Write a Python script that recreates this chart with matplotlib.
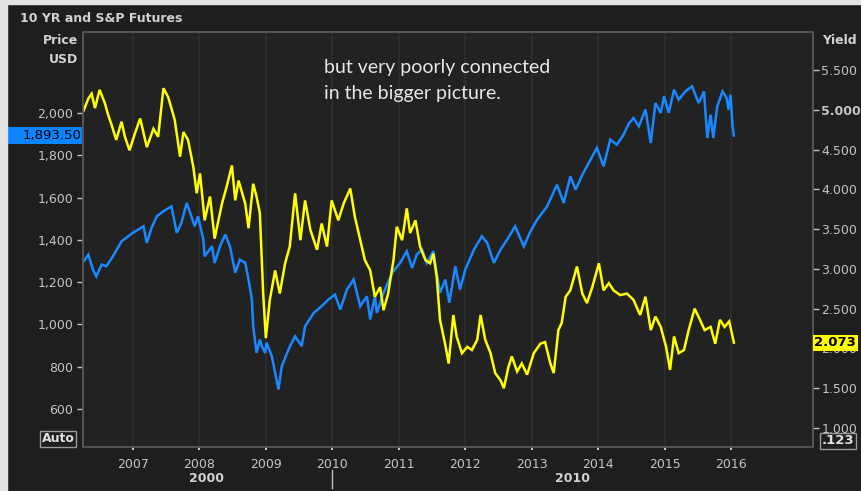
import numpy as np
import matplotlib.pyplot as plt
import matplotlib.transforms as mtransforms
from matplotlib.patches import Rectangle
from matplotlib.ticker import FuncFormatter

# S&P futures (left axis, USD) - decimal year / price
sp_years = [2006.26, 2006.33, 2006.40, 2006.45, 2006.53, 2006.60, 2006.70, 2006.83,
            2007.00, 2007.16, 2007.21, 2007.28, 2007.36, 2007.46, 2007.58, 2007.66,
            2007.73, 2007.81, 2007.88, 2007.93, 2007.98, 2008.06, 2008.08, 2008.19,
            2008.23, 2008.31, 2008.39, 2008.46, 2008.54, 2008.61, 2008.69, 2008.74,
            2008.79, 2008.81, 2008.86, 2008.91, 2008.94, 2008.99, 2009.01, 2009.09,
            2009.19, 2009.24, 2009.34, 2009.44, 2009.54, 2009.59, 2009.72, 2009.84,
            2009.94, 2010.04, 2010.12, 2010.22, 2010.32, 2010.42, 2010.52, 2010.57,
            2010.64, 2010.67, 2010.77, 2010.90, 2011.02, 2011.12, 2011.20, 2011.27,
            2011.35, 2011.42, 2011.52, 2011.57, 2011.62, 2011.70, 2011.76, 2011.85,
            2011.92, 2012.00, 2012.13, 2012.25, 2012.33, 2012.43, 2012.53, 2012.63,
            2012.75, 2012.88, 2012.98, 2013.08, 2013.23, 2013.38, 2013.48, 2013.58,
            2013.66, 2013.76, 2013.83, 2013.98, 2014.08, 2014.18, 2014.28, 2014.38,
            2014.46, 2014.53, 2014.61, 2014.71, 2014.79, 2014.86, 2014.94, 2014.99,
            2015.06, 2015.14, 2015.21, 2015.31, 2015.41, 2015.51, 2015.59, 2015.64,
            2015.69, 2015.73, 2015.79, 2015.87, 2015.93, 2015.96, 2015.99, 2016.02,
            2016.04]
sp_price = [1298, 1330, 1259, 1227, 1283, 1275, 1322, 1393,
            1433, 1464, 1385, 1456, 1511, 1535, 1558, 1433,
            1480, 1574, 1511, 1464, 1511, 1401, 1322, 1369,
            1291, 1369, 1425, 1369, 1244, 1306, 1291, 1212,
            1117, 991, 865, 928, 897, 865, 913, 849,
            692, 802, 881, 944, 897, 991, 1054, 1086,
            1117, 1141, 1070, 1165, 1212, 1086, 1133, 1023,
            1133, 1054, 1149, 1244, 1291, 1346, 1267, 1330,
            1354, 1291, 1346, 1244, 1149, 1212, 1102, 1275,
            1165, 1259, 1354, 1417, 1385, 1291, 1354, 1401,
            1464, 1369, 1440, 1495, 1558, 1661, 1574, 1700,
            1637, 1708, 1748, 1835, 1748, 1874, 1850, 1897,
            1950, 1976, 1937, 2016, 1858, 2047, 2000, 2079,
            2000, 2110, 2063, 2102, 2126, 2047, 2102, 1882,
            1992, 1882, 2031, 2102, 2071, 2016, 2087, 1937,
            1893.5]

# 10 YR yield (right axis)
ty_years = [2006.26, 2006.33, 2006.38, 2006.43, 2006.50, 2006.58, 2006.63, 2006.68,
            2006.75, 2006.83, 2006.88, 2006.95, 2007.03, 2007.11, 2007.21, 2007.31,
            2007.38, 2007.46, 2007.53, 2007.58, 2007.63, 2007.71, 2007.76, 2007.83,
            2007.91, 2007.96, 2008.01, 2008.08, 2008.16, 2008.23, 2008.34, 2008.41,
            2008.49, 2008.54, 2008.59, 2008.69, 2008.74, 2008.81, 2008.86, 2008.91,
            2008.94, 2008.96, 2009.00, 2009.06, 2009.14, 2009.21, 2009.29, 2009.36,
            2009.44, 2009.52, 2009.59, 2009.67, 2009.77, 2009.84, 2009.92, 2009.99,
            2010.09, 2010.17, 2010.27, 2010.34, 2010.42, 2010.49, 2010.57, 2010.64,
            2010.72, 2010.77, 2010.84, 2010.92, 2010.97, 2011.05, 2011.12, 2011.17,
            2011.25, 2011.32, 2011.40, 2011.47, 2011.52, 2011.57, 2011.62, 2011.70,
            2011.75, 2011.82, 2011.87, 2011.95, 2012.03, 2012.10, 2012.18, 2012.23,
            2012.30, 2012.38, 2012.45, 2012.53, 2012.58, 2012.65, 2012.70, 2012.78,
            2012.85, 2012.93, 2013.03, 2013.13, 2013.20, 2013.28, 2013.33, 2013.40,
            2013.45, 2013.51, 2013.58, 2013.68, 2013.76, 2013.83, 2013.91, 2014.01,
            2014.08, 2014.16, 2014.23, 2014.33, 2014.43, 2014.53, 2014.63, 2014.71,
            2014.79, 2014.86, 2014.94, 2015.02, 2015.08, 2015.14, 2015.21, 2015.29,
            2015.36, 2015.45, 2015.53, 2015.60, 2015.69, 2015.76, 2015.83, 2015.90,
            2015.97, 2016.04]
ty_yield = [4.99, 5.14, 5.20, 5.02, 5.25, 5.08, 4.93, 4.81,
            4.62, 4.85, 4.66, 4.49, 4.70, 4.89, 4.53, 4.76,
            4.66, 5.27, 5.16, 5.02, 4.87, 4.41, 4.72, 4.62,
            4.28, 3.95, 4.20, 3.61, 3.91, 3.38, 3.82, 4.03,
            4.30, 3.86, 4.11, 3.82, 3.51, 4.07, 3.91, 3.70,
            3.11, 2.69, 2.13, 2.61, 2.98, 2.69, 3.07, 3.28,
            3.95, 3.36, 3.86, 3.49, 3.24, 3.57, 3.28, 3.86,
            3.61, 3.82, 4.01, 3.65, 3.36, 3.11, 2.98, 2.65,
            2.77, 2.48, 2.69, 3.11, 3.53, 3.36, 3.76, 3.45,
            3.61, 3.28, 3.11, 3.07, 3.19, 2.90, 2.36, 2.04,
            1.81, 2.42, 2.15, 1.94, 2.02, 1.98, 2.11, 2.42,
            2.11, 1.94, 1.69, 1.60, 1.50, 1.77, 1.90, 1.71,
            1.81, 1.67, 1.94, 2.06, 2.08, 1.81, 1.69, 2.23,
            2.32, 2.65, 2.73, 3.03, 2.69, 2.57, 2.77, 3.07,
            2.73, 2.82, 2.73, 2.67, 2.69, 2.61, 2.42, 2.65,
            2.23, 2.40, 2.27, 2.02, 1.73, 2.15, 1.94, 1.98,
            2.23, 2.50, 2.36, 2.23, 2.27, 2.06, 2.36, 2.27,
            2.34, 2.073]

year_ticks = list(range(2007, 2017))
price_ticks = [600, 800, 1000, 1200, 1400, 1600, 1800, 2000]
yield_ticks = [1.0, 1.5, 2.0, 2.5, 3.0, 3.5, 4.0, 4.5, 5.0, 5.5]

W, H = 861, 491
panel = '#1e1e1e'
plot_bg = '#222222'
grey_txt = '#c4c4c4'
frame = '#555555'
blue = '#1a88ff'
yellow = '#ffff00'

fig = plt.figure(figsize=(W / 100, H / 100), dpi=100, facecolor=panel)

# light window border on top/left
fig.patches.append(Rectangle((0, 0), 7 / W, 1, transform=fig.transFigure, color='#e4e4e4', zorder=0))
fig.patches.append(Rectangle((0, 1 - 4 / H), 1, 4 / H, transform=fig.transFigure, color='#e4e4e4', zorder=0))

ax1 = fig.add_axes([83 / W, 1 - 447 / H, 730 / W, 415 / H])
ax1.set_facecolor(plot_bg)
ax2 = ax1.twinx()

ax1.plot(sp_years, sp_price, color=blue, lw=1.8, solid_joinstyle='miter')
ax2.plot(ty_years, ty_yield, color=yellow, lw=1.8, solid_joinstyle='miter')

ax1.set_xlim(2006.25, 2017.23)
ax1.set_ylim(420, 2383)
ax2.set_ylim(0.761, 5.977)

for yr in year_ticks:
    ax1.axvline(yr, color='#2f2f2f', lw=1.2, zorder=0)

ax1.set_xticks(year_ticks)
ax1.set_xticklabels([str(y) for y in year_ticks])
ax1.set_yticks(price_ticks)
ax1.yaxis.set_major_formatter(FuncFormatter(lambda v, p: f'{v:,.0f}'))
ax2.set_yticks(yield_ticks)
ax2.yaxis.set_major_formatter(FuncFormatter(lambda v, p: f'{v:.3f}'))

ax1.tick_params(axis='x', colors=grey_txt, labelsize=9, length=2, width=1.5, pad=6)
ax1.tick_params(axis='y', colors=grey_txt, labelsize=9, length=4, width=1, pad=3)
ax2.tick_params(axis='y', colors=grey_txt, labelsize=9, length=4, width=1, pad=2)
for ax in (ax1, ax2):
    for s in ax.spines.values():
        s.set_color(frame)
        s.set_linewidth(1.2)
for lab in ax2.get_yticklabels():
    if lab.get_text() == '5.000':
        lab.set_fontweight('bold')

# last value flags
trans1 = mtransforms.blended_transform_factory(fig.transFigure, ax1.transData)
ax1.add_patch(Rectangle((8 / W, sp_price[-1] - 38), 74 / W, 76, transform=trans1,
                        fc='#0a84ff', ec='none', zorder=9, clip_on=False))
ax1.text(81 / W, sp_price[-1], f'{sp_price[-1]:,.2f}', transform=trans1, ha='right', va='center',
         fontsize=9.5, color='black', zorder=10, clip_on=False)
trans2 = mtransforms.blended_transform_factory(ax2.transAxes, ax2.transData)
ax2.text(1.002, ty_yield[-1], f'{ty_yield[-1]:.3f}', transform=trans2, ha='left', va='center',
         fontsize=9.5, fontweight='bold', color='black', zorder=10, clip_on=False,
         bbox=dict(boxstyle='square,pad=0.12', fc=yellow, ec='none'))

# header texts
fig.text(20 / W, 1 - 18 / H, '10 YR and S&P Futures', fontsize=9, fontweight='bold',
         color='#d2d2d2', va='center', ha='left')
fig.text(78 / W, 1 - 40 / H, 'Price', fontsize=9, fontweight='bold', color='#d2d2d2', va='center', ha='right')
fig.text(78 / W, 1 - 60 / H, 'USD', fontsize=9, fontweight='bold', color='#d2d2d2', va='center', ha='right')
fig.text(857 / W, 1 - 40 / H, 'Yield', fontsize=9, fontweight='bold', color='#d2d2d2', va='center', ha='right')

fig.text(58 / W, 1 - 439 / H, 'Auto', fontsize=9, fontweight='bold', color='#e0e0e0', va='center', ha='center',
         bbox=dict(boxstyle='square,pad=0.1', fc=panel, ec='#9a9a9a', lw=1))
fig.text(838 / W, 1 - 441 / H, '.123', fontsize=9.5, fontweight='bold', color='#e0e0e0', va='center', ha='center',
         bbox=dict(boxstyle='square,pad=0.1', fc=panel, ec='#9a9a9a', lw=1))

# decade row
fig.text(207 / W, 1 - 479 / H, '2000', fontsize=9, fontweight='bold', color='#d2d2d2', va='center', ha='center')
fig.text(573 / W, 1 - 479 / H, '2010', fontsize=9, fontweight='bold', color='#d2d2d2', va='center', ha='center')
transx = mtransforms.blended_transform_factory(ax1.transData, fig.transFigure)
ax1.plot([2010, 2010], [1 - 470 / H, 1 - 488 / H], transform=transx, color='#bdbdbd', lw=1, clip_on=False)

# annotation
fig.text(324 / W, 1 - 80.5 / H, 'but very poorly connected\nin the bigger picture.',
         fontsize=14, family='Lato', color='#e6e6e6', va='center', ha='left', linespacing=1.6)

fig.savefig('out.png', dpi=100, facecolor=fig.get_facecolor())
